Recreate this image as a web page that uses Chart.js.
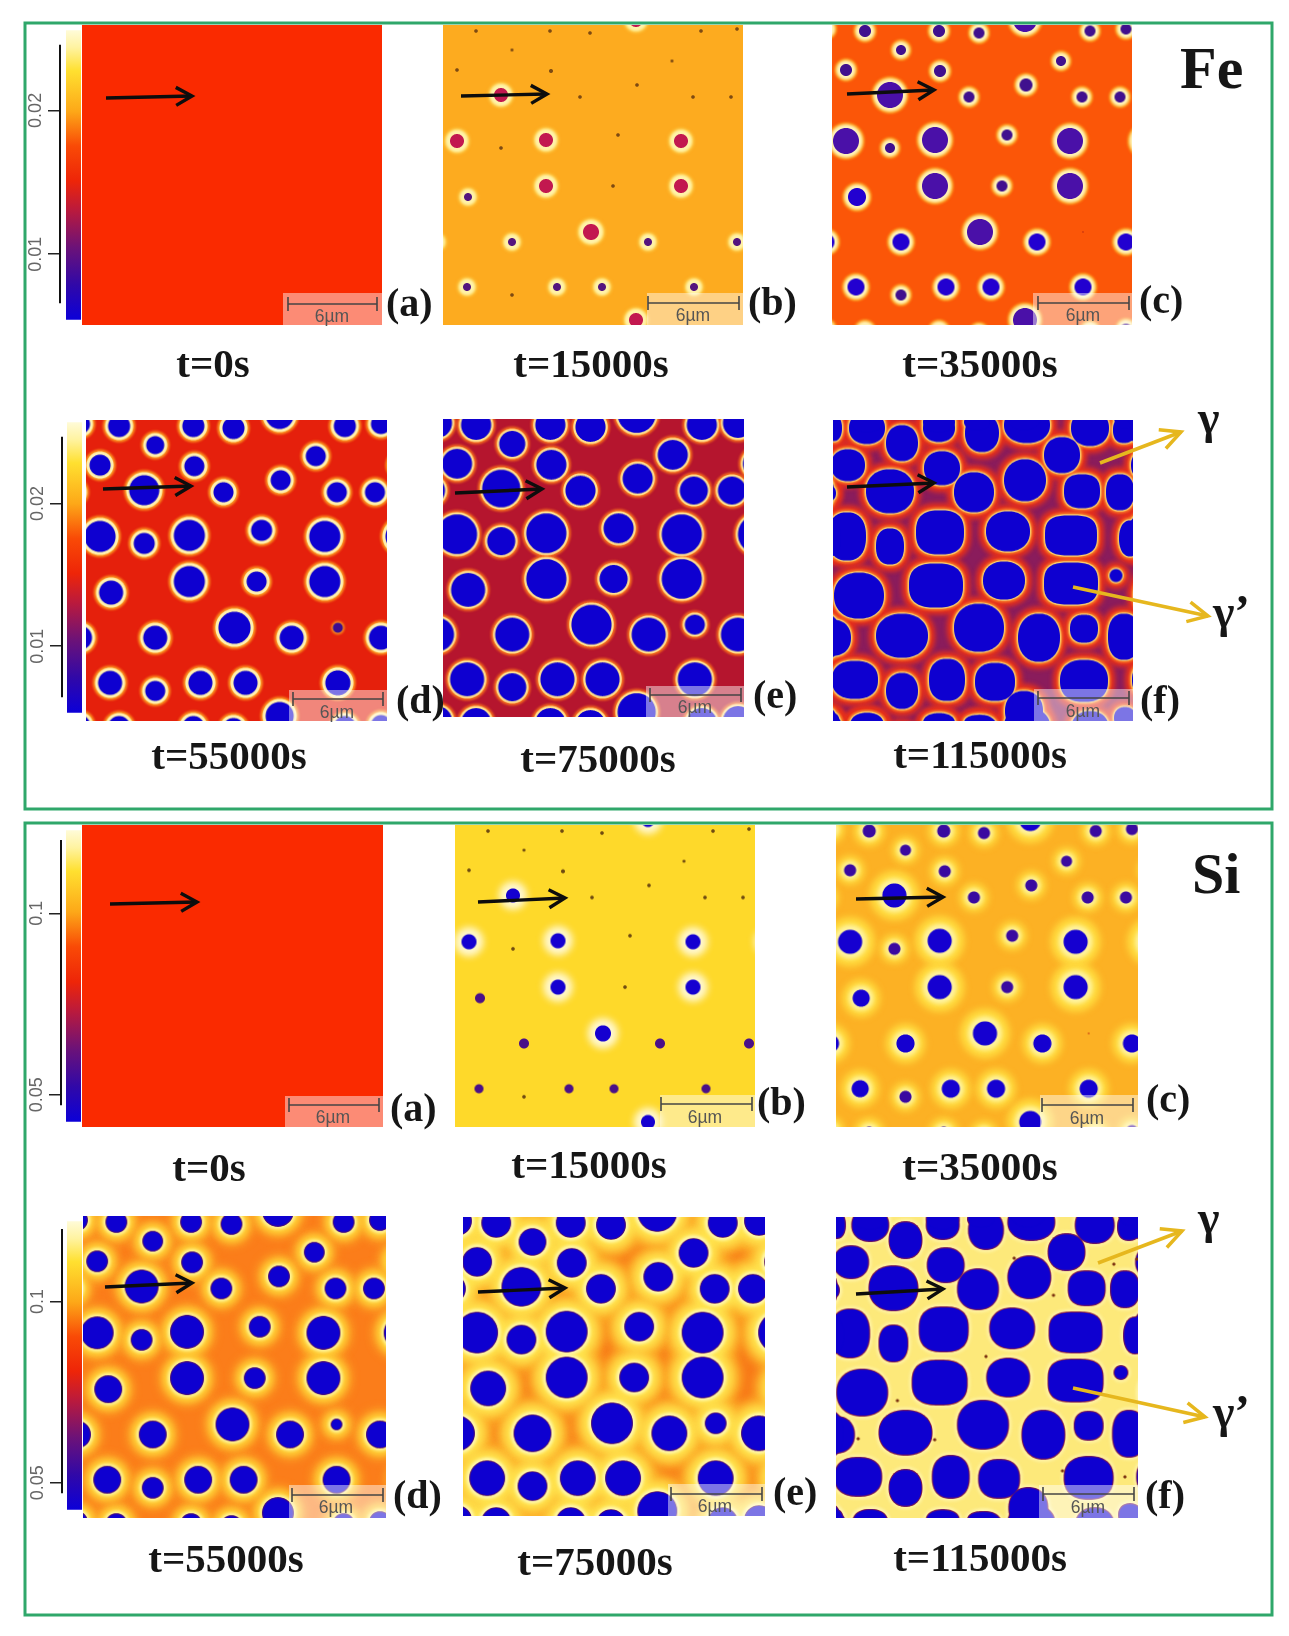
<!DOCTYPE html>
<html><head><meta charset="utf-8">
<script src="https://cdn.jsdelivr.net/npm/chart.js@4/dist/chart.umd.min.js"></script>
<style>
html,body{margin:0;padding:0;background:#fff;width:1289px;height:1636px;overflow:hidden}
#stage{position:relative;width:1289px;height:1636px}
canvas{position:absolute;filter:blur(.35px)}
svg{position:absolute;left:0;top:0}
.s{font-family:"Liberation Serif",serif;font-weight:700;fill:#161616}
.b{font-family:"Liberation Sans",sans-serif;font-size:17.5px;fill:#555;text-anchor:middle}
</style></head><body><div id="stage"></div>
<script>
// ---- data: particle centres on the 300 x 300 simulation grid ----
const particleX=[33,107,147,258,294,69,229,14,108,194,137,250,288,58,175,58,14,103,238,25,170,103,238,69,148,205,251,294,24,69,114,159,251,193];
const particleY=[6,6,8,6,4,25,36,45,46,60,72,72,72,70,110,123,116,115,116,172,161,161,161,217,207,217,207,217,262,270,262,262,262,295];
// particle radii at each time step, in grid cells
const rA=[];
const feB=[1.8,1.8,1.8,1.8,1.8,1.5,1.5,1.8,2,1.8,1.8,1.8,1.8,7,1.8,1.8,7,7,7,4,1.8,7,7,4,8,4,0,4,4,1.8,4,4,4,7];
const feC=[6,6,5.5,5.5,5.5,5,5,6,6,6.5,5.5,5.5,5.5,13,5.5,5,13,13,13,9,5.5,13,13,8.5,13,8.5,0.8,8.5,8.5,5.5,8.5,8.5,8.5,12];
const feD=[11,11,11,11,10,9,10,10.5,10,10,10,10,10,15,10.5,10.5,15.5,15.5,15.5,12,10,15.5,15.5,12,16,12,5,12,12,10,12,12,12.5,14];
const feE=[15,15,15,15,15,13,15,15,15,15,15,14,14,19,15,14,20,20,20,17,14,20,20,17,20,17,10,17,17,14,17,17,17,19];
const siB=[1.8,1.8,1.8,1.8,1.8,1.5,1.5,1.8,2,1.8,1.8,1.8,1.8,7,1.8,1.8,7.5,7.5,7.5,5,1.8,7.5,7.5,5,8,5,0,5,4.5,1.8,4.5,4.5,4.5,7];
const siC=[6.5,6.5,6,6,6,5.5,5.5,6,6,6,6,6,6,12,6,6,12,12,12,8.5,6,12,12,9,12,9,0.8,9,8.5,6,9,9,9,11];
const siD=[10,10,10,10,10,9.5,9.5,10,10,10,10,10,10,16,10,10,15.5,16,16,13,10,16,16,13,16,13,5,13,13,10,13,13,13,15];
const siE=[14,14,14,14,14,13,14,14,14,14,14,14,14,19,14,14,20,20,20,17,14,20,20,18,20,17,10,17,17,14,17,17,17,19];
// coalesced precipitates at t=115000 s
const blobX=[1,34,106,149,194,257,291,69,229,15,109,192,141,57,249,287,0,14,57,107,175,238,297,26,103,171,238,283,0,69,146,206,251,291,22,69,114,162,251,191,34,106,144,292,0];
const blobY=[8,8,8,13,5,8,10,23,35,45,48,60,72,71,71,72,73,116,126,112,111,115,118,175,165,160,163,155,217,215,207,217,208,216,259,270,259,261,260,290,302,302,302,297,298];
const blobRx=[8,18,16,17,23,19,11,16,18,17,18,21,20,24,18,14,3,19,14,24,22,26,11,25,27,21,27,6.5,18,26,25,21,14,16,23,16,18,20,24,19,16,16,13,11,6];
const blobRy=[13,16,14,19,18,18,13,18,18,16,17,21,20,22,17,18,6,24,18,22,20,20,18,23,22,19,21,6.5,18,22,24,24,14,23,19,18,21,19,21,20,10,10,8,11,6];
const blobN=[2.2,2.2,2.2,2.2,2.2,2.2,2.4,2.2,2.2,2.2,2.2,2.1,2.2,2.2,2.6,2.4,2,2.4,2.4,2.7,2.2,3,2.2,2.2,2.7,2.2,3,2,2.2,2.2,2.2,2.2,2.4,2.4,2.4,2.2,2.4,2.4,2.4,2.2,2.2,2.2,2.2,2.2,2];
const siDotX=[177,276,299,216,149,61,22,98,225,287];
const siDotY=[41,47,42,78,139,183,221,222,253,259];
// colour-bar ticks
const feTicks=[0.02,0.01];
const siTicks=[0.1,0.05];

const BLUE='#0e00d0';
const panels=[
 {x:82,y:25,w:300,h:300,bg:'#fa2a00',r:rA,layers:[],core:[[0,BLUE]]},
 {x:443,y:25,w:300,h:300,bg:'#fdab1f',r:feB,layers:[{g:4,k:0,c:'#fff2a8',b:1.2,min:3},{g:5.8,k:0,c:'#ffcf4c',b:1.5,min:3}],core:[[6,'#c2184f'],[3,'#54147e'],[0,'#7d4a12']]},
 {x:832,y:25,w:300,h:300,bg:'#fb5608',r:feC,layers:[{g:3.4,k:0,c:'#fff3b8',b:.8,min:2},{g:5.5,k:0,c:'#fda525',b:1.2,min:2}],core:[[11.5,'#4a10a8'],[8,'#2200d0'],[2,'#40108e'],[0,'#c03010']]},
 {x:86,y:420,w:301,h:301,bg:'#e5200c',r:feD,layers:[{g:3,k:0,c:'#fff0b0',b:.6,min:6},{g:5,k:0,c:'#fd9a20',b:1,min:6},{g:1.5,k:0,c:'#fd9a20',b:1}],core:[[6,BLUE],[0,'#3c0c90']]},
 {x:443,y:419,w:301,h:298,bg:'#b5152e',r:feE,layers:[{g:2.2,k:0,c:'#ffe090',b:.6},{g:4.2,k:0,c:'#f7701c',b:1.2}],core:[[0,BLUE]]},
 {x:833,y:420,w:300,h:301,bg:'#8a1c5c',blob:1,layers:[{g:1.2,k:0,c:'#fbd070',b:.5},{g:2.6,k:0,c:'#f8802a',b:.8},{g:7,k:0,c:'#e8301a',b:2.5}],core:[[0,BLUE]]},
 {x:82,y:825,w:301,h:302,bg:'#fa2a00',r:rA,layers:[],core:[[0,BLUE]]},
 {x:455,y:825,w:300,h:302,bg:'#fed92a',r:siB,layers:[{g:7,k:0,c:'#fff8d0',b:3.5,min:6}],core:[[6,'#1500d0'],[4,'#4a1088'],[0,'#6e4a10']]},
 {x:836,y:825,w:302,h:302,bg:'#fcb124',r:siC,layers:[{g:1.2,k:.3,c:'#fff3a0',b:2,min:2},{g:4,k:.7,c:'#ffdd40',b:3.5,min:2}],core:[[7,'#1500d0'],[2,'#3a0aa0'],[0,'#c03010']]},
 {x:83,y:1216,w:303,h:302,bg:'#fb7d1a',r:siD,layers:[{g:.8,k:0,c:'#5a1060',b:.3},{g:3,k:0,c:'#fff6a0',b:1.5},{g:7,k:0,c:'#ffd63a',b:3},{g:12,k:0,c:'#fdaa28',b:4}],core:[[0,BLUE]]},
 {x:463,y:1217,w:302,h:299,bg:'#f87a18',r:siE,layers:[{g:.8,k:0,c:'#5a1060',b:.3},{g:3.5,k:0,c:'#fff8b0',b:1.5},{g:10,k:0,c:'#ffe650',b:4},{g:18,k:0,c:'#fdb52c',b:5}],core:[[0,BLUE]]},
 {x:836,y:1217,w:302,h:301,bg:'#fde97a',blob:1,dots:1,layers:[{g:.9,k:0,c:'#8a1a40',b:.3},{g:3,k:0,c:'#fff4a8',b:1.5}],core:[[0,BLUE]]}
];
const bars=[
 {ax:60,l:66,r:81,top:25,bot:325,min:.00544,max:.02557,a0:.00658,a1:.02456,ticks:feTicks},
 {ax:62,l:67,r:82,top:417,bot:718,min:.00534,max:.02568,a0:.00642,a1:.02466,ticks:feTicks},
 {ax:61,l:66,r:81,top:825,bot:1127,min:.04255,max:.12287,a0:.04707,a1:.12021,ticks:siTicks},
 {ax:62,l:67,r:82,top:1216,bot:1515,min:.04255,max:.1221,a0:.04707,a1:.11995,ticks:siTicks}
];

const stage=document.getElementById('stage');
function mkCanvas(x,y,w,h){const c=document.createElement('canvas');c.width=w;c.height=h;c.style.cssText=`left:${x}px;top:${y}px;width:${w}px;height:${h}px`;stage.appendChild(c);return c;}

function sprite(rx,ry,n,color,blur){
 const pad=Math.ceil(blur*3)+2,cv=document.createElement('canvas');
 cv.width=Math.ceil(rx*2)+pad*2;cv.height=Math.ceil(ry*2)+pad*2;
 const g=cv.getContext('2d');g.translate(cv.width/2,cv.height/2);
 if(blur>0)g.filter=`blur(${blur}px)`;
 g.fillStyle=color;g.beginPath();
 for(let i=0;i<=96;i++){const t=i/96*2*Math.PI,c=Math.cos(t),s=Math.sin(t);
  const px=rx*Math.sign(c)*Math.pow(Math.abs(c),2/n),py=ry*Math.sign(s)*Math.pow(Math.abs(s),2/n);
  i?g.lineTo(px,py):g.moveTo(px,py);}
 g.closePath();g.fill();return cv;
}
const shifts=[-300,0,300];
function coreColor(p,r){for(const [m,c] of p.core)if(r>=m)return c;return BLUE;}

function layerDataset(p,grow,color,blur,min){
 const data=[];const add=(x,y,rx,ry,n,col)=>{for(const dx of shifts)for(const dy of shifts){const X=x+dx,Y=y+dy,R=Math.max(rx,ry);
   if(X+R<0||X-R>300||Y+R<0||Y-R>300)continue;data.push({x:X,y:Y,r:Math.max(R,1),rx,ry,n,col});}};
 if(p.blob){blobX.forEach((x,i)=>{const g=grow(Math.min(blobRx[i],blobRy[i]));add(x,blobY[i],blobRx[i]+g,blobRy[i]+g,blobN[i],color||BLUE);});}
 else{p.r.forEach((r,i)=>{if(r<=0||r<(min||0))return;const R=r+grow(r);add(particleX[i],particleY[i],R,R,2,color||coreColor(p,r));});}
 const u=p.w/300,v=p.h/300;
 return {data,clip:0,borderWidth:0,
  pointStyle:c=>{const a=c.raw;return a&&a.rx?sprite(a.rx*u,a.ry*v,a.n,a.col,blur):'circle';}};
}
const bgPlugin={id:'bg',beforeDatasetsDraw(ch,_,o){const a=ch.chartArea,g=ch.ctx;g.save();g.fillStyle=o.color;g.fillRect(a.left,a.top,a.width,a.height);g.restore();}};

panels.forEach(p=>{
 const ds=[];
 if(p.dots){const d=siDotX.map((x,i)=>({x,y:siDotY[i],r:2,rx:1.6,ry:1.6,n:2,col:'#7a3010'}));
   ds.push({data:d,clip:0,borderWidth:0,pointStyle:c=>c.raw&&c.raw.rx?sprite(c.raw.rx,c.raw.ry,2,c.raw.col,.2):'circle'});}
 ds.push(layerDataset(p,()=>0,null,.25));
 p.layers.forEach(l=>ds.push(layerDataset(p,r=>l.g+l.k*r,l.c,l.b,l.min)));
 new Chart(mkCanvas(p.x,p.y,p.w,p.h),{type:'bubble',plugins:[bgPlugin],
  data:{datasets:ds},
  options:{responsive:false,animation:false,devicePixelRatio:1,events:[],layout:{padding:0,autoPadding:false},
   plugins:{legend:{display:false},tooltip:{enabled:false},bg:{color:p.bg}},
   scales:{x:{type:'linear',min:0,max:300,display:false},y:{type:'linear',min:0,max:300,reverse:true,display:false}}}});
});

function cmap(chart){const a=chart.chartArea;if(!a)return '#000';
 const g=chart.ctx.createLinearGradient(0,a.top,0,a.bottom);
 [[0,'#fffbd8'],[.06,'#fff3a0'],[.14,'#ffe030'],[.28,'#fda818'],[.4,'#f94a06'],[.52,'#ee2508'],[.62,'#bb1a3c'],[.75,'#6c1278'],[.88,'#3008a8'],[1,'#0c00d8']].forEach(s=>g.addColorStop(s[0],s[1]));return g;}

bars.forEach(b=>{
 const w=b.r-b.ax,h=b.bot-b.top,mid=(b.l+b.r)/2-b.ax;
 new Chart(mkCanvas(b.ax-40,b.top,40+w,h),{type:'scatter',
  data:{datasets:[
   {data:[{x:mid,y:b.min},{x:mid,y:b.max}],showLine:true,pointRadius:0,borderWidth:b.r-b.l,borderCapStyle:'butt',borderColor:c=>cmap(c.chart),clip:false},
   {data:[{x:0,y:b.a0},{x:0,y:b.a1}],showLine:true,pointRadius:0,borderWidth:2,borderCapStyle:'butt',borderColor:'#111',clip:false}]},
  options:{responsive:false,animation:false,devicePixelRatio:1,events:[],layout:{padding:0,autoPadding:false},
   plugins:{legend:{display:false},tooltip:{enabled:false}},
   scales:{x:{type:'linear',min:0,max:w,display:false},
    y:{type:'linear',min:b.min,max:b.max,position:'left',afterFit:s=>{s.width=40;},
     afterBuildTicks:s=>{s.ticks=b.ticks.map(v=>({value:v}));},
     border:{display:false},
     grid:{drawOnChartArea:false,drawTicks:true,tickLength:12,color:'#222',lineWidth:1.5},
     ticks:{minRotation:90,maxRotation:90,crossAlign:'center',padding:-5.5,color:'#666',font:{family:'Liberation Sans',size:18},callback:v=>String(v)}}}}});
});

// ---- overlay: frames, arrows, scale bars and captions ----
const NS='http://www.w3.org/2000/svg';
const svg=document.createElementNS(NS,'svg');svg.setAttribute('width',1289);svg.setAttribute('height',1636);stage.appendChild(svg);
function el(n,a,t){const e=document.createElementNS(NS,n);for(const k in a)e.setAttribute(k,a[k]);if(t)e.textContent=t;svg.appendChild(e);return e;}
[[25,23,1247,786],[25,823,1247,792]].forEach(f=>el('rect',{x:f[0],y:f[1],width:f[2],height:f[3],fill:'none',stroke:'#2fa76a','stroke-width':3}));

function arrow(x0,y0,x1,y1,col,w,hl,hw){
 el('line',{x1:x0,y1:y0,x2:x1,y2:y1,stroke:col,'stroke-width':w});
 const a=Math.atan2(y1-y0,x1-x0),c=Math.cos(a),s=Math.sin(a);
 const p=(l,o)=>`${x1-l*c-o*s},${y1-l*s+o*c}`;
 el('polyline',{points:`${p(hl,hw)} ${x1},${y1} ${p(hl,-hw)}`,fill:'none',stroke:col,'stroke-width':w,'stroke-linejoin':'miter'});
}
[[106,98,192,96],[461,96,547,94],[847,94,934,90],[103,489,191,486],[455,493,542,489],[847,487,934,483],
 [110,904,197,902],[478,902,565,898],[856,899,943,897],[105,1287,192,1283],[478,1292,565,1288],[856,1294,943,1289]]
 .forEach(a=>arrow(a[0],a[1],a[2],a[3],'#0d0d0d',3.4,16,9));
[[1100,463,1181,432],[1073,587,1208,616],[1098,1263,1182,1231],[1073,1388,1205,1417]]
 .forEach(a=>arrow(a[0],a[1],a[2],a[3],'#e6b71e',3.5,20,10));

const scale=[ // rect left, right, top, bottom, bar left, bar right, bar y, text x, text baseline
 [283,382,293,325,288,377,304,332,322],[647,743,293,325,648,739,303,693,321],[1033,1132,293,325,1038,1129,303,1083,321],
 [289,389,690,721,293,383,699,337,718],[646,744,686,717,650,741,695,695,713],[1034,1133,689,721,1038,1129,698,1083,717],
 [285,383,1096,1127,289,379,1105,333,1123],[660,755,1095,1127,661,752,1104,705,1123],[1040,1138,1095,1127,1042,1133,1105,1087,1124],
 [289,386,1485,1518,292,383,1495,336,1513],[668,765,1484,1516,671,762,1494,715,1512],[1039,1138,1485,1518,1043,1134,1494,1088,1513]];
scale.forEach(s=>{
 el('rect',{x:s[0],y:s[2],width:s[1]-s[0],height:s[3]-s[2],fill:'#fff',opacity:.46});
 el('line',{x1:s[4],y1:s[6],x2:s[5],y2:s[6],stroke:'#444','stroke-width':1.6});
 [s[4],s[5]].forEach(x=>el('line',{x1:x,y1:s[6]-7,x2:x,y2:s[6]+7,stroke:'#444','stroke-width':1.6}));
 el('text',{x:s[7],y:s[8],class:'b'},'6µm');
});
const caps=[['t=0s',213,377],['t=15000s',591,377],['t=35000s',980,377],['t=55000s',229,769],['t=75000s',598,772],['t=115000s',980,768],
 ['t=0s',209,1181],['t=15000s',589,1178],['t=35000s',980,1180],['t=55000s',226,1572],['t=75000s',595,1575],['t=115000s',980,1571]];
caps.forEach(c=>el('text',{x:c[1],y:c[2],class:'s','font-size':41,'text-anchor':'middle'},c[0]));
const tags=[['(a)',386,316],['(b)',748,315],['(c)',1139,313],['(d)',396,713],['(e)',753,708],['(f)',1140,713],
 ['(a)',390,1121],['(b)',757,1115],['(c)',1146,1112],['(d)',393,1508],['(e)',773,1505],['(f)',1145,1508]];
tags.forEach(c=>el('text',{x:c[1],y:c[2],class:'s','font-size':40},c[0]));
el('text',{x:1180,y:88,class:'s','font-size':60},'Fe');
el('text',{x:1192,y:893,class:'s','font-size':58},'Si');
[['γ',1198,433],['γ’',1213,627],['γ',1198,1233],['γ’',1213,1427]].forEach(c=>el('text',{x:c[1],y:c[2],class:'s','font-size':46},c[0]));
</script></body></html>
